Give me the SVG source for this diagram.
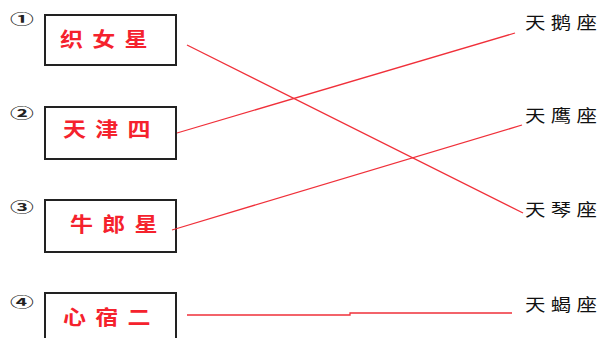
<svg xmlns="http://www.w3.org/2000/svg" width="602" height="338" viewBox="0 0 602 338">
<style>
.box{fill:#fff;stroke:#222;stroke-width:2}
.star{font-family:"Noto Sans CJK SC",sans-serif;font-size:20px;font-weight:bold;fill:#f5222d;letter-spacing:8px}
.con{font-family:"Noto Sans CJK SC",sans-serif;font-size:17px;fill:#111;letter-spacing:4.5px}
.num{font-family:"Noto Sans CJK SC",sans-serif;font-size:14px;font-weight:bold;fill:#222}
.ln{stroke:#f0303a;stroke-width:1.3;fill:none}
</style>
<rect width="602" height="338" fill="#fff"/>
<g id="n1"><rect class="box" x="45" y="15" width="131" height="50"/><text class="star" transform="translate(60,47) scale(1.15,1)">织女星</text><text class="num" transform="translate(10,24) scale(1.7,1)">①</text></g>
<g id="n2"><rect class="box" x="45" y="107" width="131" height="52"/><text class="star" transform="translate(63,137) scale(1.15,1)">天津四</text><text class="num" transform="translate(10,118) scale(1.7,1)">②</text></g>
<g id="n3"><rect class="box" x="45" y="200" width="131" height="52"/><text class="star" transform="translate(70,232) scale(1.15,1)">牛郎星</text><text class="num" transform="translate(10,212) scale(1.7,1)">③</text></g>
<g id="n4"><rect class="box" x="45" y="293" width="131" height="60"/><text class="star" transform="translate(63,325) scale(1.15,1)">心宿二</text><text class="num" transform="translate(10,307) scale(1.7,1)">④</text></g>
<g id="r1"><text class="con" transform="translate(525,29) scale(1.2,1)">天鹅座</text></g>
<g id="r2"><text class="con" transform="translate(525,122) scale(1.2,1)">天鹰座</text></g>
<g id="r3"><text class="con" transform="translate(525,216) scale(1.2,1)">天琴座</text></g>
<g id="r4"><text class="con" transform="translate(525,311) scale(1.2,1)">天蝎座</text></g>
<g id="connectors">
<line class="ln" x1="187" y1="45" x2="523" y2="213"/>
<line class="ln" x1="177" y1="133" x2="515" y2="33"/>
<line class="ln" x1="172" y1="230" x2="522" y2="125"/>
<polyline class="ln" points="187,315 350,315 350,313 512,313"/>
</g>
</svg>
